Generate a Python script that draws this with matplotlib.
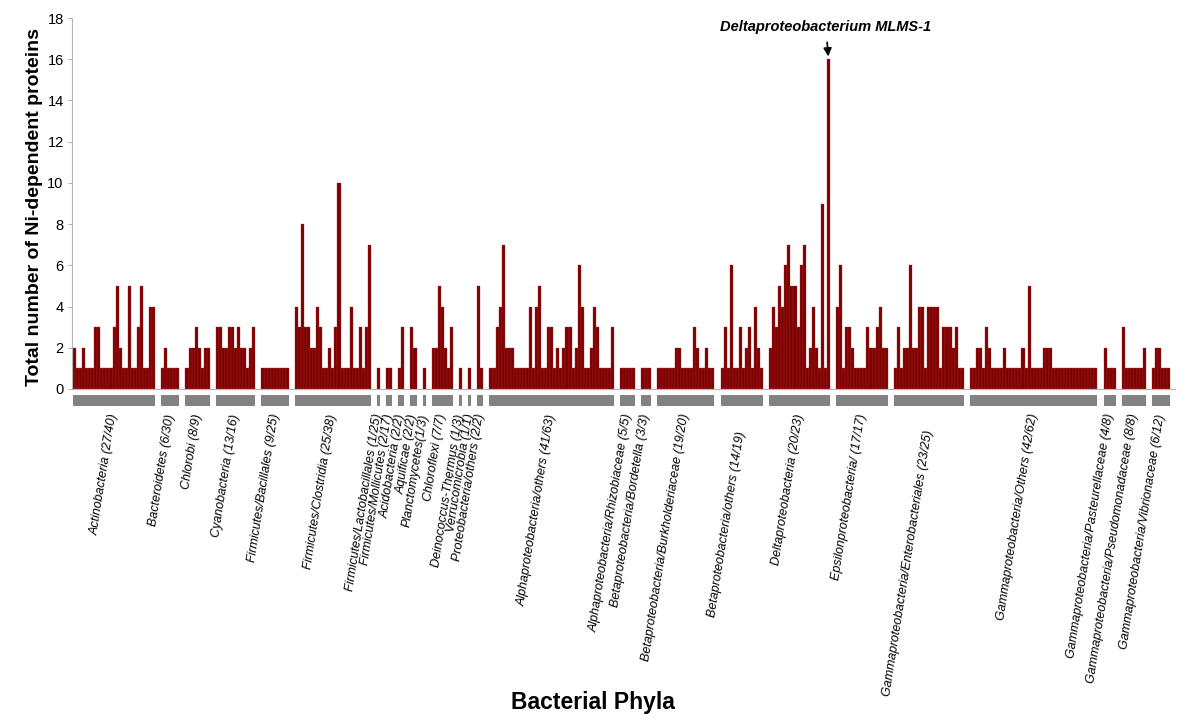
import matplotlib
matplotlib.use('Agg')
import matplotlib.pyplot as plt
from matplotlib.patches import Rectangle

plt.rcParams['font.family'] = ['Liberation Sans', 'DejaVu Sans']

# ---------------- data ----------------
actinobacteria = [2, 1, 1, 2, 1, 1, 1, 3, 3, 1, 1, 1, 1, 3, 5, 2, 1, 1, 5, 1, 1, 3, 5, 1, 1, 4, 4]
bacteroidetes = [1, 2, 1, 1, 1, 1]
chlorobi = [1, 2, 2, 3, 2, 1, 2, 2]
cyanobacteria = [3, 3, 2, 2, 3, 3, 2, 3, 2, 2, 1, 2, 3]
bacillales = [1, 1, 1, 1, 1, 1, 1, 1, 1]
clostridia = [4, 3, 8, 3, 3, 2, 2, 4, 3, 1, 1, 2, 1, 3, 10, 1, 1, 1, 4, 1, 1, 3, 1, 3, 7]
lactobacillales = [1]
mollicutes = [1, 1]
acidobacteria = [1, 3]
aquificae = [3, 2]
planctomycetes = [1]
chloroflexi = [2, 2, 5, 4, 2, 1, 3]
deinococcus = [1]
verrucomicrobia = [1]
proteo_others = [5, 1]
alpha_others = [1, 1, 3, 4, 7, 2, 2, 2, 1, 1, 1, 1, 1, 4, 1, 4, 5, 1, 1, 3, 3, 1, 2, 1, 2, 3, 3,
                1, 2, 6, 4, 1, 1, 2, 4, 3, 1, 1, 1, 1, 3]
rhizobiaceae = [1, 1, 1, 1, 1]
bordetella = [1, 1, 1]
burkholderiaceae = [1, 1, 1, 1, 1, 1, 2, 2, 1, 1, 1, 1, 3, 2, 1, 1, 2, 1, 1]
beta_others = [1, 3, 1, 6, 1, 1, 3, 1, 2, 3, 1, 4, 2, 1]
delta = [2, 4, 3, 5, 4, 6, 7, 5, 5, 3, 6, 7, 1, 2, 4, 2, 1, 9, 1, 16]
epsilon = [4, 6, 1, 3, 3, 2, 1, 1, 1, 1, 3, 2, 2, 3, 4, 2, 2]
enterobacteriales = [1, 3, 1, 2, 2, 6, 2, 2, 4, 4, 1, 4, 4, 4, 4, 1, 3, 3, 3, 2, 3, 1, 1]
gamma_others = [1, 1, 2, 2, 1, 3, 2, 1, 1, 1, 1, 2, 1, 1, 1, 1, 1, 2, 1, 5, 1, 1, 1, 1, 2, 2, 2,
                1, 1, 1, 1, 1, 1, 1, 1, 1, 1, 1, 1, 1, 1, 1]
pasteurellaceae = [2, 1, 1, 1]
pseudomonadaceae = [3, 1, 1, 1, 1, 1, 1, 2]
vibrionaceae = [1, 2, 2, 1, 1, 1]

group_labels = [
    "Actinobacteria (27/40)", "Bacteroidetes (6/30)", "Chlorobi (8/9)", "Cyanobacteria (13/16)",
    "Firmicutes/Bacillales (9/25)", "Firmicutes/Clostridia (25/38)",
    "Firmicutes/Lactobacillales (1/25)", "Firmicutes/Mollicutes (2/17)", "Acidobacteria (2/2)",
    "Aquificae (2/2)", "Planctomycetes(1/3)", "Chloroflexi (7/7)", "Deinococcus-Thermus (1/3)",
    "Verrucomicrobia (1/1)", "Proteobacteria/others (2/2)", "Alphaproteobacteria/others (41/63)",
    "Alphaproteobacteria/Rhizobiaceae (5/5)", "Betaproteobacteria/Bordetella (3/3)",
    "Betaproteobacteria/Burkholderiaceae (19/20)", "Betaproteobacteria/others (14/19)",
    "Deltaproteobacteria (20/23)", "Epsilonproteobacteria/ (17/17)",
    "Gammaproteobacteria/Enterobacteriales (23/25)", "Gammaproteobacteria/Others (42/62)",
    "Gammaproteobacteria/Pasteurellaceae (4/8)", "Gammaproteobacteria/Pseudomonadaceae (8/8)",
    "Gammaproteobacteria/Vibrionaceae (6/12)",
]
group_values = [
    actinobacteria, bacteroidetes, chlorobi, cyanobacteria, bacillales, clostridia,
    lactobacillales, mollicutes, acidobacteria, aquificae, planctomycetes, chloroflexi,
    deinococcus, verrucomicrobia, proteo_others, alpha_others, rhizobiaceae, bordetella,
    burkholderiaceae, beta_others, delta, epsilon, enterobacteriales, gamma_others,
    pasteurellaceae, pseudomonadaceae, vibrionaceae,
]
annotation_text = "Deltaproteobacterium MLMS-1"

# ---------------- layout / style ----------------
BAR = '#800000'
GRAY = '#828282'
AXC = '#b4b4b4'
GAP = 2                      # empty slots between groups
px = 18.0 / 371.0            # data units per pixel (y)
lower_labels = {"Betaproteobacteria/others (14/19)": 18,
                "Gammaproteobacteria/Enterobacteriales (23/25)": 16}

fig = plt.figure(figsize=(12, 7.2), dpi=100)
ax = fig.add_axes([72 / 1200, 331 / 720, 1103 / 1200, 371 / 720])
ax.set_xlim(-0.33, 362.5)
ax.set_ylim(0, 18)

start = 0
peak = None
for label, vals in zip(group_labels, group_values):
    n = len(vals)
    xs = [start + i for i in range(n)]
    ax.bar(xs, vals, width=1.0, align='edge', color=BAR, edgecolor='#9c3030',
           linewidth=0.25, zorder=2)
    if max(vals) == 16:
        peak = (start + vals.index(16) + 0.5, 16)
    ax.add_patch(Rectangle((start, -(406 - 389) * px), n, 11 * px, color=GRAY,
                           clip_on=False, lw=0, zorder=2))
    dy = lower_labels.get(label, 0)
    ax.text(start + n / 2.0, -(414 - 389 + dy) * px, label, rotation=81,
            rotation_mode='anchor', ha='right', va='center', fontsize=9,
            style='italic', clip_on=False)
    start += n + GAP

for s in ['top', 'right']:
    ax.spines[s].set_visible(False)
for s in ['left', 'bottom']:
    ax.spines[s].set_color(AXC)
    ax.spines[s].set_linewidth(0.8)
ax.set_xticks([])
ax.set_yticks(range(0, 19, 2))
ax.tick_params(axis='y', length=3, color=AXC, labelsize=10.5, pad=3)

ax.annotate(annotation_text, xy=peak, xycoords='data',
            xytext=(826, 693), textcoords='figure pixels',
            ha='center', va='center', fontsize=10.5, fontweight='bold', style='italic',
            arrowprops=dict(arrowstyle='-|>', color='black', lw=1.2,
                            mutation_scale=12, shrinkA=4, shrinkB=2))

fig.text(35 / 1200, 1 - 207 / 720, "Total number of Ni-dependent proteins", rotation=90,
         ha='center', va='center', fontsize=14, fontweight='bold')
fig.text(593 / 1200, 1 - 703 / 720, "Bacterial Phyla", ha='center', va='center',
         fontsize=16.5, fontweight='bold')

fig.savefig('out.png', dpi=100)
